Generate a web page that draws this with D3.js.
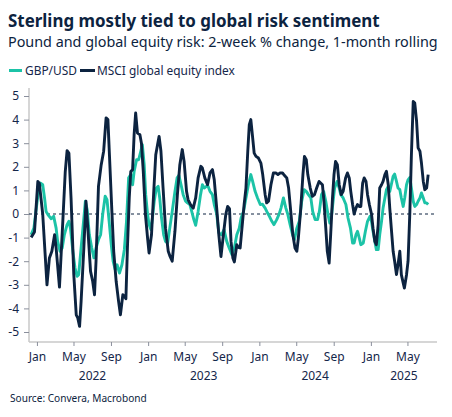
<!DOCTYPE html>
<html><head><meta charset="utf-8">
<script src="https://cdn.jsdelivr.net/npm/d3@7"></script>
<style>
html,body{margin:0;padding:0;background:#fff;}
svg{display:block;font-family:"Noto Sans","Open Sans",sans-serif;}
</style></head>
<body>
<svg id="chart" width="452" height="417"></svg>
<script>
// ---- Data ----
const titleText = "Sterling mostly tied to global risk sentiment";
const subtitleText = "Pound and global equity risk: 2-week % change, 1-month rolling";
const sourceText = "Source: Convera, Macrobond";
const seriesNames = ["GBP/USD", "MSCI global equity index"];
const yTicks = [5,4,3,2,1,0,-1,-2,-3,-4,-5];

const gbpDates = ["2021-12-13","2021-12-22","2021-12-30","2022-01-06","2022-01-13","2022-01-20","2022-01-26","2022-01-31","2022-02-08","2022-02-17","2022-02-25","2022-03-05","2022-03-10","2022-03-18","2022-03-25","2022-04-01","2022-04-10","2022-04-16","2022-04-21","2022-04-29","2022-05-06","2022-05-13","2022-05-18","2022-05-26","2022-06-03","2022-06-09","2022-06-15","2022-06-22","2022-06-30","2022-07-07","2022-07-14","2022-07-22","2022-07-29","2022-08-05","2022-08-13","2022-08-19","2022-08-26","2022-09-02","2022-09-08","2022-09-15","2022-09-21","2022-09-29","2022-10-07","2022-10-15","2022-10-22","2022-10-29","2022-11-05","2022-11-11","2022-11-16","2022-11-24","2022-12-01","2022-12-08","2022-12-13","2022-12-19","2022-12-24","2022-12-30","2023-01-04","2023-01-10","2023-01-15","2023-01-21","2023-01-28","2023-02-03","2023-02-08","2023-02-14","2023-02-21","2023-02-27","2023-03-06","2023-03-13","2023-03-21","2023-03-30","2023-04-06","2023-04-12","2023-04-19","2023-04-26","2023-05-04","2023-05-10","2023-05-18","2023-05-24","2023-05-31","2023-06-06","2023-06-14","2023-06-22","2023-06-28","2023-07-04","2023-07-11","2023-07-17","2023-07-23","2023-07-31","2023-08-06","2023-08-14","2023-08-21","2023-08-30","2023-09-07","2023-09-16","2023-09-24","2023-10-03","2023-10-11","2023-10-19","2023-10-27","2023-11-02","2023-11-10","2023-11-18","2023-11-26","2023-12-04","2023-12-10","2023-12-18","2023-12-26","2024-01-04","2024-01-11","2024-01-20","2024-01-28","2024-02-03","2024-02-11","2024-02-18","2024-02-27","2024-03-06","2024-03-12","2024-03-20","2024-03-28","2024-04-03","2024-04-11","2024-04-19","2024-04-25","2024-05-03","2024-05-11","2024-05-19","2024-05-27","2024-06-03","2024-06-10","2024-06-18","2024-06-24","2024-07-02","2024-07-10","2024-07-16","2024-07-23","2024-07-30","2024-08-06","2024-08-13","2024-08-19","2024-08-24","2024-08-30","2024-09-04","2024-09-12","2024-09-19","2024-09-24","2024-10-02","2024-10-11","2024-10-18","2024-10-26","2024-11-02","2024-11-07","2024-11-13","2024-11-18","2024-11-24","2024-11-29","2024-12-07","2024-12-14","2024-12-21","2024-12-29","2025-01-03","2025-01-08","2025-01-14","2025-01-19","2025-01-25","2025-01-30","2025-02-05","2025-02-10","2025-02-16","2025-02-21","2025-02-27","2025-03-04","2025-03-09","2025-03-15","2025-03-20","2025-03-26","2025-03-31","2025-04-06","2025-04-11","2025-04-17","2025-04-22","2025-04-28","2025-05-03","2025-05-09","2025-05-14","2025-05-20","2025-05-25","2025-05-31","2025-06-05","2025-06-11","2025-06-16","2025-06-22","2025-06-27","2025-07-03","2025-07-08"];
const gbpValues = [-0.88,-0.6,0.25,0.96,1.31,1.24,0.68,0.11,-0.06,-0.2,-0.1,-0.6,-1.16,-1.58,-1.44,-0.88,-0.45,-0.31,-0.6,-1.58,-2.29,-2.64,-2.57,-1.44,-0.31,0.54,0.18,-0.88,-1.44,-1.86,-1.44,-1.09,-0.88,0,0.75,0.61,-0.31,-1.3,-2.0,-2.36,-2.15,-2.5,-2.15,-1.5,-0.31,1.53,1.67,1.24,1.8,2.3,2.3,2.66,2.94,2.09,0.82,0,-0.45,-0.66,-0.17,0.54,1.1,1.17,0.68,-0.17,-0.88,-1.16,-1.23,-0.6,0.11,0.96,1.53,1.64,1.24,0.82,0.54,0.47,0.4,0.11,-0.24,-0.48,0.11,0.82,1.24,1.1,1.17,1.17,0.96,0.82,0.4,0,-0.8,-0.88,-0.66,-1.16,-1.44,-1.72,-1.44,-0.88,-0.6,-0.17,0.11,0.68,1.24,1.67,1.38,0.96,0.68,0.4,0.42,0.25,0.04,-0.1,-0.31,-0.45,-0.24,0,0.25,0.68,0.25,0,-0.45,-0.88,-1.09,-0.6,-0.31,0.54,1.03,0.96,0.82,0.68,0.11,-0.24,-0.24,0.11,0.82,0.96,0.54,0,-0.38,-0.17,0.54,1.1,1.38,1.1,0.82,0.68,0.4,-0.17,-0.6,-1.23,-1.23,-0.88,-0.73,-1.02,-1.3,-1.23,-0.73,-0.31,-0.1,-0.31,-0.73,-1.16,-1.51,-1.51,-0.88,-0.31,0.25,0.68,1.03,1.17,0.96,1.24,1.6,1.69,1.38,1.1,1.03,0.68,0.32,0.68,1.24,1.45,1.55,1.1,0.54,0.32,0.4,0.54,0.68,0.89,0.68,0.47,0.47,0.4];

const msciDates = ["2021-12-13","2021-12-24","2022-01-04","2022-01-09","2022-01-20","2022-01-28","2022-02-03","2022-02-11","2022-02-19","2022-02-28","2022-03-05","2022-03-16","2022-03-27","2022-04-04","2022-04-10","2022-04-16","2022-04-23","2022-05-02","2022-05-10","2022-05-15","2022-05-21","2022-05-26","2022-06-04","2022-06-11","2022-06-17","2022-06-26","2022-07-03","2022-07-09","2022-07-14","2022-07-22","2022-07-31","2022-08-08","2022-08-16","2022-08-22","2022-08-27","2022-09-04","2022-09-10","2022-09-18","2022-09-26","2022-10-02","2022-10-10","2022-10-17","2022-10-20","2022-10-25","2022-10-31","2022-11-05","2022-11-11","2022-11-16","2022-11-21","2022-11-27","2022-12-05","2022-12-10","2022-12-16","2022-12-23","2022-12-30","2023-01-04","2023-01-12","2023-01-20","2023-01-26","2023-02-01","2023-02-06","2023-02-12","2023-02-19","2023-02-27","2023-03-08","2023-03-14","2023-03-21","2023-03-30","2023-04-07","2023-04-15","2023-04-23","2023-04-29","2023-05-07","2023-05-12","2023-05-20","2023-05-29","2023-06-06","2023-06-14","2023-06-23","2023-06-28","2023-07-06","2023-07-15","2023-07-23","2023-07-31","2023-08-06","2023-08-14","2023-08-21","2023-08-28","2023-09-05","2023-09-13","2023-09-19","2023-09-25","2023-09-30","2023-10-06","2023-10-11","2023-10-19","2023-10-24","2023-10-30","2023-11-04","2023-11-12","2023-11-18","2023-11-24","2023-11-29","2023-12-04","2023-12-09","2023-12-15","2023-12-21","2023-12-29","2024-01-06","2024-01-12","2024-01-20","2024-01-25","2024-01-31","2024-02-08","2024-02-16","2024-02-24","2024-03-02","2024-03-09","2024-03-17","2024-03-23","2024-03-31","2024-04-06","2024-04-13","2024-04-20","2024-04-27","2024-05-03","2024-05-08","2024-05-16","2024-05-23","2024-05-28","2024-06-03","2024-06-08","2024-06-16","2024-06-23","2024-06-30","2024-07-07","2024-07-15","2024-07-26","2024-07-31","2024-08-06","2024-08-11","2024-08-17","2024-08-22","2024-08-28","2024-09-02","2024-09-07","2024-09-13","2024-09-19","2024-09-26","2024-10-02","2024-10-10","2024-10-16","2024-10-22","2024-10-27","2024-11-02","2024-11-07","2024-11-13","2024-11-18","2024-11-24","2024-11-29","2024-12-05","2024-12-10","2024-12-16","2024-12-21","2024-12-27","2025-01-03","2025-01-08","2025-01-14","2025-01-19","2025-01-25","2025-01-30","2025-02-05","2025-02-10","2025-02-16","2025-02-21","2025-02-27","2025-03-04","2025-03-09","2025-03-15","2025-03-20","2025-03-26","2025-03-31","2025-04-06","2025-04-11","2025-04-17","2025-04-21","2025-04-28","2025-05-03","2025-05-09","2025-05-14","2025-05-20","2025-05-25","2025-05-31","2025-06-05","2025-06-11","2025-06-16","2025-06-22","2025-06-27","2025-07-03","2025-07-08"];
const msciValues = [-0.99,-0.76,1.38,1.3,0,-1.72,-3.0,-1.86,-1.58,-0.88,-1.44,-3.1,-0.3,1.8,2.68,2.58,0.68,-2.57,-4.27,-4.4,-4.76,-3.7,-1.44,0.54,-0.6,-2.43,-2.85,-3.42,-2.0,1.17,2.09,2.66,4.07,4.0,2.5,0.11,-1.58,-2.85,-3.7,-4.27,-3.42,-3.53,-3.59,-1.44,0.68,1.8,1.88,3.36,4.28,3.43,3.36,3.0,1.8,0,-1.0,-1.65,-0.88,1.1,2.51,2.94,3.29,2.66,1.1,-0.6,-1.58,-1.8,-2.0,-0.73,0.82,2.09,2.73,2.23,0.96,0.61,0.4,0.25,0.68,1.53,2.02,1.95,1.53,1.24,1.74,1.88,1.45,0.25,-0.88,-1.8,-0.88,0,0.32,0.23,-1.16,-1.86,-2.03,-1.3,-1.41,-1.44,-0.73,0.4,1.1,2.66,3.79,4.0,3.36,2.58,2.44,2.37,2.16,1.67,0.82,0.47,0.54,1.24,1.74,1.74,1.67,1.74,1.74,1.64,1.53,1.1,0.11,-0.88,-1.44,-1.58,-1.02,0.25,1.67,2.44,2.3,1.67,1.1,0.75,0.82,1.1,1.38,1.24,0.54,-0.6,-1.58,-2.08,-0.88,0.68,1.67,2.23,2.09,1.24,0.82,0.96,1.53,1.74,1.53,0.96,0.4,0,0.25,0.4,0.32,0.32,1.31,1.53,1.38,0.82,0.4,0,-0.6,-1.16,-1.3,-0.45,1.1,1.24,1.38,1.67,1.81,1.24,0.25,-0.6,-1.58,-2.0,-2.57,-2.15,-1.58,-2.57,-2.92,-3.14,-2.57,-2.0,0.11,2.51,4.77,4.7,3.93,2.8,2.66,2.16,1.38,1.03,1.1,1.67];

// ---- Styles ----
const navy = "#0c2340";
const teal = "#1cc3a7";
const textCol = "#14264a";
const axisGray = "#c8c8c8";

const svg = d3.select("#chart");
const parse = d3.utcParse("%Y-%m-%d");

const x = d3.scaleUtc()
  .domain([parse("2021-12-06"), parse("2025-08-06")])
  .range([29, 437]);
const y = d3.scaleLinear().domain([-5, 5]).range([332, 96]);
const plotTop = 88, plotBottom = 342;

function fitText(sel, target) {
  const w = sel.node().getComputedTextLength();
  const fs = parseFloat(sel.attr("font-size"));
  sel.attr("font-size", (fs * target / w).toFixed(2));
}

// Title & subtitle
fitText(svg.append("text").attr("x", 8).attr("y", 26.5)
  .attr("font-size", 18).attr("font-weight", 700).attr("fill", navy)
  .text(titleText), 372);
fitText(svg.append("text").attr("x", 8).attr("y", 46.5)
  .attr("font-size", 15).attr("fill", navy)
  .text(subtitleText), 430);

// Legend
const legend = svg.append("g");
legend.append("line").attr("x1", 9).attr("x2", 22).attr("y1", 70.5).attr("y2", 70.5)
  .attr("stroke", teal).attr("stroke-width", 3);
fitText(legend.append("text").attr("x", 25).attr("y", 74.5).attr("font-size", 12)
  .attr("fill", textCol).text(seriesNames[0]), 52);
legend.append("line").attr("x1", 80).attr("x2", 95).attr("y1", 70.5).attr("y2", 70.5)
  .attr("stroke", navy).attr("stroke-width", 3);
fitText(legend.append("text").attr("x", 97).attr("y", 74.5).attr("font-size", 12)
  .attr("fill", textCol).text(seriesNames[1]), 138);

// Axes lines
svg.append("line").attr("x1", 29).attr("x2", 29).attr("y1", plotTop).attr("y2", plotBottom)
  .attr("stroke", axisGray).attr("stroke-width", 1.5);
svg.append("line").attr("x1", 29).attr("x2", 437).attr("y1", plotBottom).attr("y2", plotBottom)
  .attr("stroke", axisGray).attr("stroke-width", 1.5);

// Y axis
const yAxis = svg.append("g").attr("transform", "translate(29,0)")
  .call(d3.axisLeft(y).tickValues(yTicks).tickSize(5).tickPadding(5).tickFormat(d3.format("d")));
yAxis.select(".domain").remove();
yAxis.selectAll(".tick line").attr("stroke", "#8a8f9c");
yAxis.selectAll(".tick text").attr("fill", textCol).attr("font-size", 12)
  .attr("font-family", "'Noto Sans', sans-serif").text(d => d < 0 ? "-" + Math.abs(d) : d);

// X axis
const xAxis = svg.append("g").attr("transform", `translate(0,${plotBottom})`)
  .call(d3.axisBottom(x).ticks(d3.utcMonth.every(4)).tickSize(4).tickPadding(6)
    .tickFormat(d3.utcFormat("%b")));
xAxis.select(".domain").remove();
xAxis.selectAll(".tick line").attr("stroke", "#8a8f9c");
xAxis.selectAll(".tick text").attr("fill", textCol).attr("font-size", 12)
  .attr("font-family", "'Noto Sans', sans-serif");

// Year labels
const [d0, d1] = x.domain();
[2022, 2023, 2024, 2025].forEach(yr => {
  const a = new Date(Math.max(Date.UTC(yr, 0, 1), d0));
  const b = new Date(Math.min(Date.UTC(yr + 1, 0, 1), d1));
  svg.append("text").attr("x", (x(a) + x(b)) / 2).attr("y", 380)
    .attr("text-anchor", "middle").attr("font-size", 12).attr("fill", textCol)
    .text(yr);
});

// Zero line
svg.append("line").attr("x1", 29).attr("x2", 437).attr("y1", y(0)).attr("y2", y(0))
  .attr("stroke", navy).attr("stroke-width", 1).attr("stroke-dasharray", "3,3");

// Series
const line = d3.line().x(d => x(d[0])).y(d => y(d[1])).curve(d3.curveLinear);
const gbp = gbpDates.map((d, i) => [parse(d), gbpValues[i]]);
const msci = msciDates.map((d, i) => [parse(d), msciValues[i]]);

svg.append("path").datum(gbp).attr("d", line).attr("fill", "none")
  .attr("stroke", teal).attr("stroke-width", 2.9).attr("stroke-linejoin", "round");
svg.append("path").datum(msci).attr("d", line).attr("fill", "none")
  .attr("stroke", navy).attr("stroke-width", 2.9).attr("stroke-linejoin", "round");

// Source
fitText(svg.append("text").attr("x", 10).attr("y", 401.5).attr("font-size", 11)
  .attr("fill", navy).text(sourceText), 137);
</script>
</body></html>
